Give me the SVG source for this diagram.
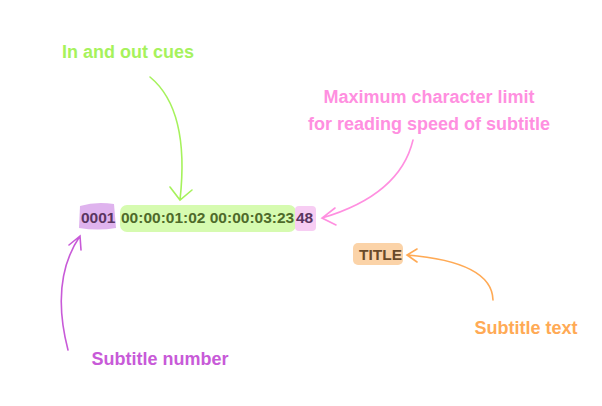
<svg xmlns="http://www.w3.org/2000/svg" width="602" height="406" viewBox="0 0 602 406">
<style>
.lbl{font-family:"Liberation Sans",Arial,sans-serif;font-weight:bold;font-size:18px;text-anchor:middle}
.code{font-family:"Liberation Sans",Arial,sans-serif;font-weight:bold;font-size:15.5px}
.c{fill:none;stroke-width:1.6;stroke-linecap:round}
</style>
<rect width="602" height="406" fill="#fff"/>
<g id="num"><path d="M80,206 Q96,201 114,204 L116,228 Q98,231 79,228 Z" fill="#dfb3ee"/><text class="code" x="81" y="223" fill="#5a3560">0001</text></g>
<g id="cues"><rect x="120" y="205" width="176" height="27" rx="7" fill="#d6fbb0"/><text class="code" x="121" y="223" fill="#4e6a2a">00:00:01:02 00:00:03:23</text></g>
<g id="limit"><rect x="295" y="206" width="21" height="25" rx="4" fill="#f7cdf3"/><text class="code" x="296" y="223" fill="#5a3560">48</text></g>
<g id="title"><rect x="353" y="243" width="50" height="22" rx="5" fill="#fbd3a8"/><text class="code" x="359" y="260" font-size="14" fill="#6a4a2a">TITLE</text></g>
<g id="labels">
<text class="lbl" x="128" y="58" fill="#a6f25c">In and out cues</text>
<text class="lbl" x="429" y="103" fill="#ff8fe0">Maximum character limit</text>
<text class="lbl" x="429" y="130" fill="#ff8fe0">for reading speed of subtitle</text>
<text class="lbl" x="526" y="334" fill="#ffaa55">Subtitle text</text>
<text class="lbl" x="160" y="365" fill="#c85ad8">Subtitle number</text>
</g>
<g id="connectors">
<path class="c" stroke="#a6f25c" d="M150,77 Q190,110 180,200 M170,187 L180,200 L192,190"/>
<path class="c" stroke="#ff8fe0" d="M413,140 Q400,195 322,218 M335,208 L322,218 L336,225"/>
<path class="c" stroke="#c85ad8" d="M68,350 Q50,280 80,236 M69,245 L80,236 L81,250"/>
<path class="c" stroke="#ffaa55" d="M493,300 Q492,262 407,255 M417,249 L407,255 L417,262"/>
</g>
</svg>
